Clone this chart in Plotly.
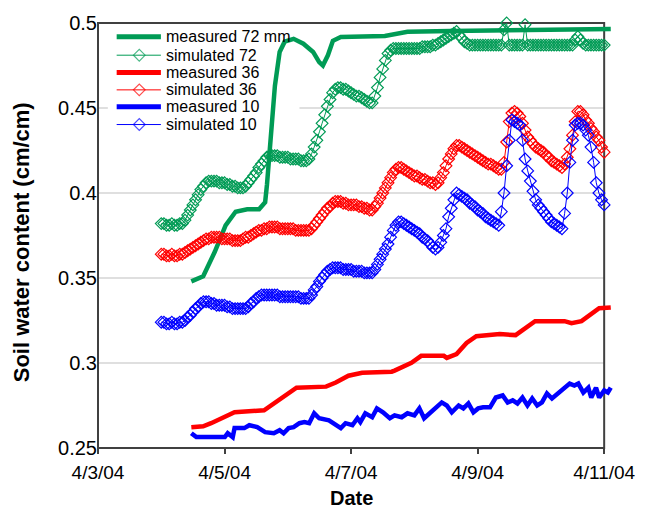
import pandas as pd
import plotly.graph_objects as go

START = pd.Timestamp("2004-04-03 00:00")

# ---------------- data (hours after 4/3/04 00:00) ----------------
sim_hours = list(range(24, 193))
sim72 = [0.382, 0.382, 0.381, 0.381, 0.382, 0.381, 0.381, 0.382, 0.382, 0.384, 0.387, 0.390,
         0.393, 0.396, 0.399, 0.402, 0.404, 0.406, 0.407, 0.407, 0.407, 0.407, 0.406, 0.406,
         0.406, 0.405, 0.405, 0.404, 0.404, 0.403, 0.403, 0.403, 0.404, 0.406, 0.408, 0.410,
         0.412, 0.415, 0.417, 0.419, 0.421, 0.422, 0.422, 0.422, 0.422, 0.421, 0.421, 0.421,
         0.421, 0.420, 0.420, 0.420, 0.420, 0.419, 0.419, 0.419, 0.420, 0.423, 0.427, 0.431,
         0.436, 0.441, 0.446, 0.451, 0.455, 0.459, 0.461, 0.462, 0.462, 0.461, 0.461, 0.460,
         0.459, 0.458, 0.457, 0.457, 0.456, 0.455, 0.454, 0.453, 0.453, 0.457, 0.462, 0.468,
         0.473, 0.478, 0.482, 0.484, 0.485, 0.485, 0.485, 0.485, 0.485, 0.485, 0.485, 0.485,
         0.485, 0.485, 0.485, 0.486, 0.486, 0.486, 0.486, 0.487, 0.487, 0.488, 0.489, 0.490,
         0.491, 0.492, 0.493, 0.494, 0.495, 0.493, 0.491, 0.489, 0.488, 0.487, 0.487, 0.487,
         0.487, 0.487, 0.487, 0.487, 0.487, 0.487, 0.487, 0.487, 0.487, 0.487, 0.496, 0.500,
         0.487, 0.487, 0.487, 0.487, 0.487, 0.487, 0.499, 0.487, 0.487, 0.487, 0.487, 0.487,
         0.487, 0.487, 0.487, 0.487, 0.487, 0.487, 0.487, 0.487, 0.487, 0.487, 0.487, 0.487,
         0.487, 0.490, 0.492, 0.490, 0.488, 0.487, 0.487, 0.487, 0.487, 0.487, 0.487, 0.487,
         0.487]
sim36 = [0.364, 0.364, 0.363, 0.363, 0.364, 0.363, 0.363, 0.364, 0.364, 0.365, 0.366, 0.367,
         0.368, 0.369, 0.370, 0.371, 0.372, 0.373, 0.373, 0.374, 0.374, 0.374, 0.374, 0.373,
         0.373, 0.373, 0.373, 0.372, 0.372, 0.372, 0.372, 0.373, 0.374, 0.374, 0.375, 0.376,
         0.377, 0.378, 0.378, 0.379, 0.379, 0.380, 0.380, 0.380, 0.380, 0.379, 0.379, 0.379,
         0.379, 0.379, 0.379, 0.378, 0.378, 0.378, 0.378, 0.378, 0.378, 0.379, 0.381, 0.383,
         0.385, 0.387, 0.389, 0.391, 0.392, 0.394, 0.395, 0.395, 0.395, 0.394, 0.394, 0.393,
         0.393, 0.393, 0.393, 0.392, 0.392, 0.391, 0.391, 0.390, 0.390, 0.392, 0.394, 0.397,
         0.400, 0.403, 0.406, 0.409, 0.412, 0.414, 0.415, 0.415, 0.414, 0.413, 0.412, 0.411,
         0.410, 0.410, 0.409, 0.408, 0.408, 0.407, 0.406, 0.406, 0.405, 0.406, 0.409, 0.412,
         0.416, 0.420, 0.423, 0.426, 0.428, 0.428, 0.427, 0.426, 0.425, 0.424, 0.423, 0.422,
         0.421, 0.420, 0.419, 0.418, 0.417, 0.417, 0.416, 0.415, 0.414, 0.414, 0.418, 0.430,
         0.442, 0.447, 0.448, 0.447, 0.445, 0.441, 0.437, 0.433, 0.431, 0.429, 0.427, 0.426,
         0.425, 0.424, 0.422, 0.421, 0.419, 0.418, 0.417, 0.416, 0.415, 0.417, 0.421, 0.426,
         0.434, 0.442, 0.448, 0.448, 0.446, 0.443, 0.441, 0.438, 0.436, 0.433, 0.431, 0.427,
         0.424]
sim10 = [0.324, 0.324, 0.323, 0.323, 0.324, 0.323, 0.323, 0.324, 0.324, 0.325, 0.327, 0.328,
         0.330, 0.332, 0.333, 0.335, 0.336, 0.336, 0.336, 0.335, 0.335, 0.334, 0.334, 0.334,
         0.334, 0.333, 0.333, 0.332, 0.332, 0.332, 0.332, 0.332, 0.332, 0.333, 0.335, 0.336,
         0.338, 0.339, 0.340, 0.340, 0.340, 0.340, 0.340, 0.340, 0.340, 0.339, 0.339, 0.339,
         0.339, 0.339, 0.339, 0.339, 0.339, 0.338, 0.338, 0.338, 0.338, 0.340, 0.343, 0.345,
         0.348, 0.350, 0.352, 0.354, 0.355, 0.356, 0.356, 0.356, 0.356, 0.355, 0.355, 0.355,
         0.355, 0.354, 0.354, 0.354, 0.354, 0.353, 0.353, 0.353, 0.353, 0.355, 0.358, 0.361,
         0.364, 0.367, 0.370, 0.374, 0.378, 0.381, 0.383, 0.383, 0.382, 0.381, 0.380, 0.379,
         0.378, 0.377, 0.376, 0.374, 0.373, 0.372, 0.370, 0.368, 0.367, 0.368, 0.371, 0.375,
         0.379, 0.386, 0.391, 0.396, 0.400, 0.399, 0.398, 0.397, 0.396, 0.394, 0.393, 0.392,
         0.390, 0.389, 0.388, 0.386, 0.385, 0.384, 0.383, 0.382, 0.381, 0.389, 0.400, 0.416,
         0.431, 0.443, 0.442, 0.441, 0.440, 0.431, 0.420, 0.413, 0.407, 0.401, 0.396, 0.393,
         0.391, 0.389, 0.387, 0.385, 0.383, 0.382, 0.381, 0.380, 0.379, 0.388, 0.400, 0.418,
         0.431, 0.440, 0.441, 0.441, 0.440, 0.437, 0.434, 0.427, 0.418, 0.406, 0.400, 0.396,
         0.393]

meas72_hours = [35.4, 39.9, 44.3, 48.4, 52.2, 56.6, 61.1, 63.4, 64.1, 66.0, 67.1,
                68.9, 70.8, 74.2, 77.9, 81.6, 83.9, 85.3, 87.2, 89.1, 92.1, 108.8,
                117.4, 133.8, 157.3, 194.5]
meas72 = [0.348, 0.351, 0.3654, 0.381, 0.389, 0.3904, 0.3904, 0.3945, 0.405, 0.438, 0.463,
          0.483, 0.489, 0.4907, 0.4878, 0.483, 0.477, 0.475, 0.481, 0.4895, 0.4918, 0.4924,
          0.4948, 0.4953, 0.4960, 0.4965]

meas36_hours = [35.4, 39.9, 42.9, 46.6, 51.8, 63.0, 66.7, 70.4, 75.3, 86.5, 90.2, 95.0,
                100.2, 111.4, 112.5, 118.9, 122.6, 131.2, 132.3, 136.0, 139.8, 143.5,
                152.4, 158.4, 162.1, 165.8, 177.0, 179.6, 183.4, 187.1, 190.1, 194.5]
meas36 = [0.2622, 0.2628, 0.2646, 0.2675, 0.271, 0.2722, 0.2762, 0.2809, 0.2855, 0.2861,
          0.2885, 0.2925, 0.2943, 0.2949, 0.2955, 0.3001, 0.3042, 0.3042, 0.303, 0.3053,
          0.3118, 0.3158, 0.317, 0.3164, 0.3205, 0.3246, 0.3246, 0.3234, 0.3246, 0.3292,
          0.3322, 0.3327]

meas10_hours = [35.4, 37.3, 48.1, 49.2, 51.1, 51.8, 55.5, 57.4, 60.4, 63.4, 66.7, 68.9,
                70.4, 72.3, 74.2, 76.4, 78.3, 80.1, 82.0, 83.9, 87.6, 90.2, 92.1, 93.9,
                96.5, 98.4, 99.5, 101.4, 104.0, 105.8, 108.1, 110.7, 112.5, 115.2, 117.4,
                120.0, 121.9, 123.7, 126.3, 128.2, 130.4, 132.3, 134.2, 136.8, 138.6,
                140.5, 142.4, 144.2, 146.1, 148.7, 150.9, 153.5, 155.4, 157.3, 159.1,
                161.0, 162.9, 164.7, 166.6, 168.4, 170.3, 172.2, 174.8, 177.0, 178.9,
                180.7, 182.2, 184.1, 186.0, 187.1, 188.9, 190.1, 192.0, 193.4, 194.5]
meas10 = [0.2587, 0.2564, 0.2564, 0.2587, 0.2564, 0.2617, 0.2617, 0.2634, 0.2623, 0.2593,
          0.2587, 0.2605, 0.2587, 0.2617, 0.2623, 0.2646, 0.2652, 0.2646, 0.2704, 0.2675,
          0.2663, 0.2634, 0.2617, 0.2646, 0.2634, 0.2675, 0.2652, 0.2704, 0.2681, 0.2733,
          0.271, 0.2675, 0.2692, 0.2681, 0.2704, 0.2692, 0.2733, 0.2675, 0.271, 0.2739,
          0.2768, 0.275, 0.271, 0.275, 0.2733, 0.2762, 0.271, 0.2733, 0.2739, 0.2739,
          0.2797, 0.2809, 0.2768, 0.278, 0.2762, 0.2797, 0.275, 0.2791, 0.275, 0.2768,
          0.2821, 0.2791, 0.2826, 0.2855, 0.2879, 0.2867, 0.2879, 0.2826, 0.2855, 0.2797,
          0.2855, 0.2797, 0.2838, 0.2826, 0.2855]

x_tick_days = [0, 2, 4, 6, 8]
x_tick_text = ["4/3/04", "4/5/04", "4/7/04", "4/9/04", "4/11/04"]
y_tick_vals = [0.25, 0.3, 0.35, 0.4, 0.45, 0.5]
y_tick_text = ["0.25", "0.3", "0.35", "0.4", "0.45", "0.5"]
grid_vals = [0.3, 0.35, 0.4, 0.45]
Y_MIN, Y_MAX = 0.25, 0.5

legend_names = ["measured 72 mm", "simulated 72", "measured 36",
                "simulated 36", "measured 10", "simulated 10"]

# ---------------- styles ----------------
GREEN = "#009B55"
RED = "#FF0000"
BLUE = "#0000FF"
FONT = "Arial, Liberation Sans, sans-serif"
FRAME = "#404040"


def t(hours):
    return START + pd.to_timedelta(pd.Series(hours), unit="h")


W, H = 647, 510
ML, MR, MT, MB = 98, 24, 19, 62
PLOT_W = W - ML - MR
PLOT_H = H - MT - MB
DATA_W = 515  # pixels spanned by the 8 days of the axis (lines run a little past it)
FR = DATA_W / PLOT_W
END_AXIS = START + pd.Timedelta(days=8)
RANGE_END = START + pd.Timedelta(days=8 * PLOT_W / DATA_W)


def px_x(x):
    return (x - ML) / PLOT_W


def px_y(y):
    return (H - MB - y) / PLOT_H


def dx(x):  # pixel -> date (legend glyph placement)
    return START + pd.Timedelta(days=(x - ML) * 8 / DATA_W)


def dy(y):  # pixel -> value
    return Y_MIN + px_y(y) * (Y_MAX - Y_MIN)


fig = go.Figure()

series = [
    ("meas", meas72_hours, meas72, GREEN),
    ("sim", sim_hours, sim72, GREEN),
    ("meas", meas36_hours, meas36, RED),
    ("sim", sim_hours, sim36, RED),
    ("meas", meas10_hours, meas10, BLUE),
    ("sim", sim_hours, sim10, BLUE),
]

for (kind, hrs, vals, col), name in zip(series, legend_names):
    if kind == "meas":
        fig.add_trace(go.Scatter(x=t(hrs), y=vals, mode="lines", name=name,
                                 line=dict(color=col, width=4.5)))
    else:
        fig.add_trace(go.Scatter(x=t(hrs), y=vals, mode="lines+markers", name=name,
                                 line=dict(color=col, width=1),
                                 marker=dict(symbol="diamond-open", size=9,
                                             color=col, line=dict(width=1.2, color=col)),
                                 cliponaxis=False))

# hand-made legend (tighter row spacing than plotly's legend allows)
leg_rows = [33, 51.5, 69, 86.5, 103.5, 121.5]
for (kind, hrs, vals, col), name, ry in zip(series, legend_names, leg_rows):
    if kind == "meas":
        fig.add_trace(go.Scatter(x=[dx(117), dx(162)], y=[dy(ry), dy(ry)], mode="lines",
                                 line=dict(color=col, width=5), hoverinfo="skip"))
    else:
        fig.add_trace(go.Scatter(x=[dx(117), dx(140), dx(162)], y=[dy(ry)] * 3,
                                 mode="lines+markers", line=dict(color=col, width=1),
                                 marker=dict(symbol="diamond-open", size=[0, 9, 0], color=col,
                                             line=dict(width=1.2, color=col)),
                                 hoverinfo="skip"))
    fig.add_annotation(x=px_x(165), y=px_y(ry), xref="paper", yref="paper", text=name,
                       showarrow=False, xanchor="left", yanchor="middle",
                       font=dict(family=FONT, size=16, color="black"))

# gridlines, legend background and frame stop at 4/11 (drawn beneath the traces)
for g in grid_vals:
    gy = (g - Y_MIN) / (Y_MAX - Y_MIN)
    fig.add_shape(type="line", xref="paper", yref="paper", x0=0, x1=FR, y0=gy, y1=gy,
                  line=dict(color="#d4d4d4", width=1.5), layer="between")
fig.add_shape(type="rect", xref="paper", yref="paper",
              x0=px_x(108), x1=px_x(303), y0=px_y(130), y1=px_y(22),
              fillcolor="white", line=dict(width=0), layer="between")
fig.add_shape(type="rect", xref="paper", yref="paper", x0=0, x1=FR, y0=0, y1=1,
              line=dict(color=FRAME, width=2), layer="between")

fig.update_layout(
    width=W, height=H,
    margin=dict(l=ML, r=MR, t=MT, b=MB),
    plot_bgcolor="white", paper_bgcolor="white",
    showlegend=False,
    font=dict(family=FONT, color="black"),
    xaxis=dict(type="date", range=[START, RANGE_END],
               tickvals=[START + pd.Timedelta(days=d) for d in x_tick_days],
               ticktext=x_tick_text, ticks="outside", ticklen=5, tickwidth=1.5,
               tickcolor=FRAME, showgrid=False, showline=False, zeroline=False,
               tickfont=dict(size=19, family=FONT, color="black"), ticklabelstandoff=2),
    yaxis=dict(range=[Y_MIN, Y_MAX], tickvals=y_tick_vals, ticktext=y_tick_text,
               ticks="", showgrid=False, showline=False, zeroline=False,
               tickfont=dict(size=20, family=FONT, color="black")),
)

fig.add_annotation(x=px_x(21), y=px_y(240), xref="paper", yref="paper", xanchor="center",
                   yanchor="middle", text="<b>Soil water content (cm/cm)</b>", textangle=-90,
                   showarrow=False, font=dict(family=FONT, size=22, color="black"))
fig.add_annotation(x=px_x(356), y=px_y(498), xref="paper", yref="paper", xanchor="center",
                   yanchor="middle", text="<b>Date</b>",
                   showarrow=False, font=dict(family=FONT, size=20, color="black"))

fig.write_html("out.html")
